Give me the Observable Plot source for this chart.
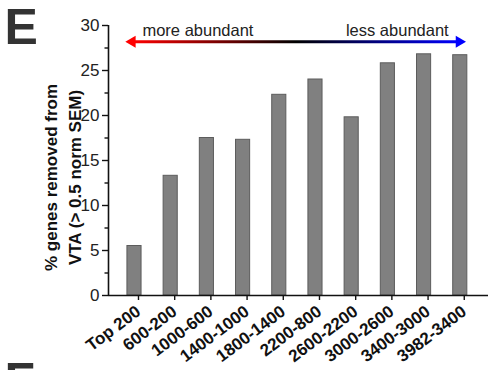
<!DOCTYPE html>
<html>
<head>
<meta charset="utf-8">
<script src="https://cdn.jsdelivr.net/npm/d3@7"></script>
<script src="https://cdn.jsdelivr.net/npm/@observablehq/plot@0.6"></script>
<style>
  html, body { margin: 0; padding: 0; background: #fff; }
  #chart svg { display: block; }
</style>
</head>
<body>
<div id="chart"></div>
<script>
// ---- data ----
const categories = ["Top 200", "600-200", "1000-600", "1400-1000", "1800-1400", "2200-800", "2600-2200", "3000-2600", "3400-3000", "3982-3400"];
const values = [5.5, 13.3, 17.5, 17.3, 22.3, 24.0, 19.8, 25.8, 26.8, 26.7];
const majorTicks = [0, 5, 10, 15, 20, 25, 30];
const minorTicks = [2.5, 7.5, 12.5, 17.5, 22.5, 27.5];
const yLabel = "% genes removed from\nVTA (> 0.5 norm SEM)";
const panelLetter = "E";
const nextPanelLetter = "F";
// arrow annotation (x in category-index units, y in data units)
const arrowY = 28.2;
const arrowLine = [{i: -0.06, y: arrowY}, {i: 8.97, y: arrowY}];
const arrowHeads = [{i: -0.064, y: arrowY, rot: -90, color: "#ff0000"}, {i: 8.97, y: arrowY, rot: 90, color: "#0000ff"}];
const leftText = [{i: 0.22, y: 29.4, text: "more abundant"}];
const rightText = [{i: 8.68, y: 29.4, text: "less abundant"}];

const bars = categories.map((c, i) => ({i, c, v: values[i]}));
const halfW = 0.195;

const font = "'Liberation Sans', Arial, Helvetica, sans-serif";

const plot = Plot.plot({
  width: 488,
  height: 370,
  marginLeft: 108,
  marginRight: 0,
  marginTop: 25,
  marginBottom: 75,
  style: {fontFamily: font, background: "#fff", color: "#222", overflow: "visible"},
  x: {domain: [-0.718, 9.78], axis: null},
  y: {domain: [0, 30], axis: null},
  marks: [
    Plot.rectY(bars, {x1: d => d.i - halfW, x2: d => d.i + halfW, y: "v", fill: "#808080", stroke: "#5c5c5c", strokeWidth: 1}),
    // axes lines
    Plot.ruleX([-0.718], {y1: 0, y2: 30, stroke: "#111", strokeWidth: 1.6}),
    Plot.ruleY([0], {x1: -0.718, x2: 9.78, stroke: "#111", strokeWidth: 1.6}),
    // y ticks
    Plot.axisY(majorTicks, {ticks: majorTicks, tickSize: 6, tickPadding: 3, fontSize: 17, stroke: "#111", strokeWidth: 1.4, label: null, fill: "#222"}),
    Plot.axisY(minorTicks, {ticks: minorTicks, tickSize: 3.5, tickFormat: () => "", stroke: "#111", strokeWidth: 1.4, label: null}),
    // x ticks
    Plot.axisX(d3.range(categories.length), {ticks: d3.range(categories.length), tickSize: 5, tickPadding: 9, tickRotate: -37, tickFormat: i => categories[i], fontSize: 17, fontWeight: "bold", stroke: "#111", strokeWidth: 1.4, label: null, fill: "#111", dx: 4}),
    // arrow
    Plot.line(arrowLine, {x: "i", y: "y", stroke: "url(#abundGrad)", strokeWidth: 3}),
    Plot.dot(arrowHeads, {x: "i", y: "y", symbol: "triangle", r: 4.4, rotate: "rot", fill: "color", stroke: null}),
    Plot.text(leftText, {x: "i", y: "y", text: "text", textAnchor: "start", fontSize: 16.5, fill: "#222"}),
    Plot.text(rightText, {x: "i", y: "y", text: "text", textAnchor: "end", fontSize: 16.5, fill: "#222"}),
    // y label
    Plot.text([yLabel], {frameAnchor: "left", rotate: -90, dx: -47, dy: 17, fontSize: 17, fontWeight: "bold", lineHeight: 1.38, fill: "#111", textAnchor: "middle"}),
    // panel letters
    Plot.text([panelLetter], {frameAnchor: "top-left", dx: -104, dy: -17, lineAnchor: "top", textAnchor: "start", fontSize: 50, fontWeight: "bold", fill: "#333"}),
    Plot.text([nextPanelLetter], {frameAnchor: "bottom-left", dx: -104, dy: 67, lineAnchor: "top", textAnchor: "start", fontSize: 50, fontWeight: "bold", fill: "#333"})
  ]
});

// gradient for the arrow, in pixel space from the x scale
const xs = plot.scale("x");
const defs = d3.select(plot).insert("defs", ":first-child");
const grad = defs.append("linearGradient").attr("id", "abundGrad").attr("gradientUnits", "userSpaceOnUse")
  .attr("x1", xs.apply(arrowLine[0].i)).attr("x2", xs.apply(arrowLine[1].i)).attr("y1", 0).attr("y2", 0);
[["0%", "#ff0000"], ["50%", "#000000"], ["100%", "#0000ff"]].forEach(([o, c]) => grad.append("stop").attr("offset", o).attr("stop-color", c));

document.getElementById("chart").appendChild(plot);
</script>
</body>
</html>
